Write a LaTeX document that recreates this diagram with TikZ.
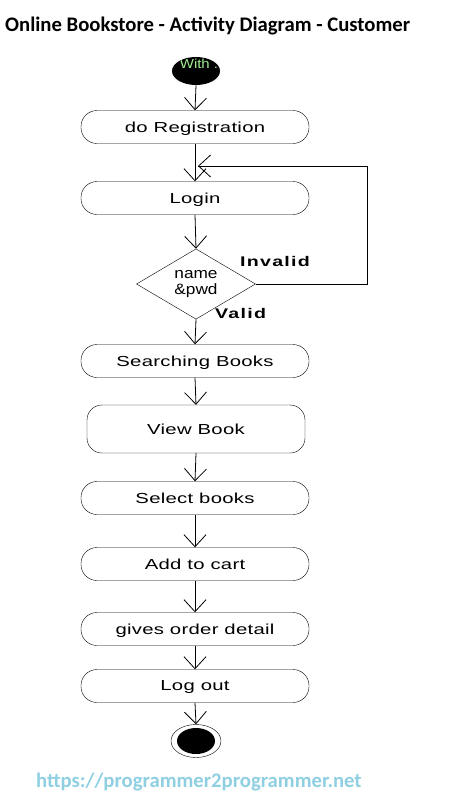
\documentclass[tikz,border=0pt]{standalone}
\usepackage{fontspec}
\setmainfont{Liberation Sans}
\newfontfamily\titlefont{Carlito}
\newfontfamily\nodefont[FakeStretch=1.4,LetterSpace=2]{Liberation Sans}
\newfontfamily\lblfont[FakeStretch=1.4,LetterSpace=9]{Liberation Sans}
\newfontfamily\decfont[FakeStretch=1.15]{Liberation Sans}
\usetikzlibrary{shapes.geometric,arrows.meta}
\definecolor{urlblue}{HTML}{8FCFE2}
\definecolor{startgreen}{HTML}{9CEB8C}
\tikzset{
  x=1pt,y=-1pt,
  act/.style={draw, rounded corners=16pt, minimum width=228pt, minimum height=33pt, inner sep=0pt, text depth=0pt, font=\nodefont\fontsize{14.5}{17}\selectfont},
  flow/.style={draw, -{Straight Barb[length=12pt,width=22pt,line width=0.8pt]}, line width=0.8pt},
  lbl/.style={font=\lblfont\bfseries\fontsize{14}{17}\selectfont, inner sep=0pt}
}
\begin{document}
\begin{tikzpicture}
\useasboundingbox (0,0) rectangle (456,796);
\node[anchor=base west, inner sep=0pt, font=\titlefont\bfseries\fontsize{20.7}{22}\selectfont] (title) at (5,31) {Online Bookstore - Activity Diagram - Customer};
\node[ellipse, fill=black, minimum width=48pt, minimum height=28pt, inner sep=0pt] (start) at (196,71) {};
\begin{scope}
\clip (196,71) ellipse [x radius=24pt, y radius=14pt];
\node[text=startgreen, inner sep=0pt, font=\decfont\fontsize{13}{13}\selectfont] (starttxt) at (199,64) {With :};
\end{scope}
\node[act] (reg) at (195,127) {do Registration};
\node[act] (login) at (195,198) {Login};
\node[diamond, draw, minimum width=119pt, minimum height=63pt, inner sep=0pt, align=center, font=\decfont\fontsize{15}{16}\selectfont] (dec) at (196,284) {name\\\&pwd};
\node[act] (search) at (195,361) {Searching Books};
\node[act, rounded corners=15pt, minimum width=218pt, minimum height=48pt] (view) at (196,429) {View Book};
\node[act] (select) at (195,498) {Select books};
\node[act] (cart) at (195,564) {Add to cart};
\node[act] (order) at (195,629) {gives order detail};
\node[act] (logout) at (195,686) {Log out};
\node[ellipse, draw, minimum width=50pt, minimum height=33pt, inner sep=0pt] (endo) at (196,741) {};
\node[ellipse, fill=black, minimum width=38pt, minimum height=26pt, inner sep=0pt] (endi) at (196,741) {};
\node[lbl, anchor=west] (inv) at (240,261) {Invalid};
\node[lbl, anchor=west] (val) at (215,313) {Valid};
\coordinate (c1) at (367,284);
\coordinate (c2) at (367,166);
\coordinate (c3) at (198,166);
\draw[flow] (start.south) -- (reg.north);
\draw[flow] (reg.south) -- (login.north);
\draw[flow] (login.south) -- (dec.north);
\draw[line width=0.8pt] (dec.east) -- (c1) -- (c2) -- (c3);
\draw[flow] (c2) -- (c3);
\draw[flow] (dec.south) -- (search.north);
\draw[flow] (search.south) -- (view.north);
\draw[flow] (view.south) -- (select.north);
\draw[flow] (select.south) -- (cart.north);
\draw[flow] (cart.south) -- (order.north);
\draw[flow] (order.south) -- (logout.north);
\draw[flow] (logout.south) -- (endo.north);
\node[anchor=base west, inner sep=0pt, text=urlblue, font=\titlefont\bfseries\fontsize{20.7}{22}\selectfont] (url) at (36,787) {https://programmer2programmer.net};
\end{tikzpicture}
\end{document}
